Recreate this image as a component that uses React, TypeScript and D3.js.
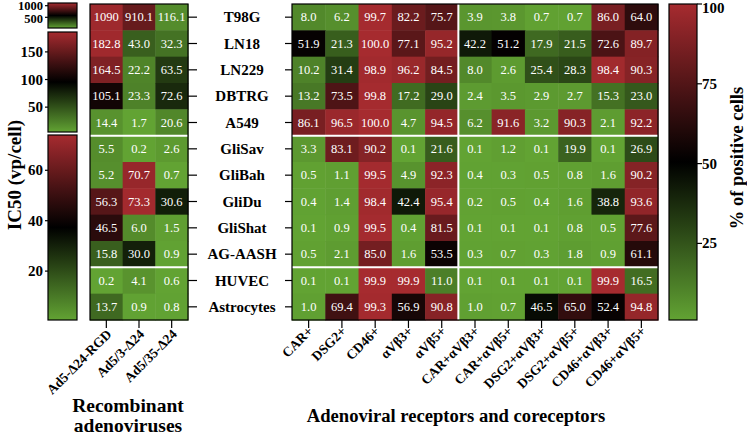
import React from "react";
import * as d3 from "d3";

const cellLines = ["T98G","LN18","LN229","DBTRG","A549","GliSav","GliBah","GliDu","GliShat","AG-AASH","HUVEC","Astrocytes"];
const viruses = ["Ad5-Δ24-RGD","Ad5/3-Δ24","Ad5/35-Δ24"];
const receptors = ["CAR+","DSG2+","CD46+","αVβ3+","αVβ5+","CAR+αVβ3+","CAR+αVβ5+","DSG2+αVβ3+","DSG2+αVβ5+","CD46+αVβ3+","CD46+αVβ5+"];

const ic50: number[][] = [
  [1090, 910.1, 116.1],
  [182.8, 43.0, 32.3],
  [164.5, 22.2, 63.5],
  [105.1, 23.3, 72.6],
  [14.4, 1.7, 20.6],
  [5.5, 0.2, 2.6],
  [5.2, 70.7, 0.7],
  [56.3, 73.3, 30.6],
  [46.5, 6.0, 1.5],
  [15.8, 30.0, 0.9],
  [0.2, 4.1, 0.6],
  [13.7, 0.9, 0.8],
];

const positive: number[][] = [
  [8.0, 6.2, 99.7, 82.2, 75.7, 3.9, 3.8, 0.7, 0.7, 86.0, 64.0],
  [51.9, 21.3, 100.0, 77.1, 95.2, 42.2, 51.2, 17.9, 21.5, 72.6, 89.7],
  [10.2, 31.4, 98.9, 96.2, 84.5, 8.0, 2.6, 25.4, 28.3, 98.4, 90.3],
  [13.2, 73.5, 99.8, 17.2, 29.0, 2.4, 3.5, 2.9, 2.7, 15.3, 23.0],
  [86.1, 96.5, 100.0, 4.7, 94.5, 6.2, 91.6, 3.2, 90.3, 2.1, 92.2],
  [3.3, 83.1, 90.2, 0.1, 21.6, 0.1, 1.2, 0.1, 19.9, 0.1, 26.9],
  [0.5, 1.1, 99.5, 4.9, 92.3, 0.4, 0.3, 0.5, 0.8, 1.6, 90.2],
  [0.4, 1.4, 98.4, 42.4, 95.4, 0.2, 0.5, 0.4, 1.6, 38.8, 93.6],
  [0.1, 0.9, 99.5, 0.4, 81.5, 0.1, 0.1, 0.1, 0.8, 0.5, 77.6],
  [0.5, 2.1, 85.0, 1.6, 53.5, 0.3, 0.7, 0.3, 1.8, 0.9, 61.1],
  [0.1, 0.1, 99.9, 99.9, 11.0, 0.1, 0.1, 0.1, 0.1, 99.9, 16.5],
  [1.0, 69.4, 99.3, 56.9, 90.8, 1.0, 0.7, 46.5, 65.0, 52.4, 94.8],
];

// IC50 colour bars: [min, max] domains and which rows use them
const ic50Domains: [number, number][] = [[40, 1116], [5, 186], [0.6, 74]];
const ic50Ticks: number[][] = [[1000, 500], [150, 100, 50], [60, 40, 20]];
const ic50RowGroup = [0, 1, 1, 1, 1, 2, 2, 2, 2, 2, 2, 2];
const posDomain: [number, number] = [1, 100];
const posTicks = [100, 75, 50, 25];

const GREEN = "#62a333";
const RED = "#a62b2f";
const FONT = "'Liberation Serif', 'Times New Roman', serif";

function colorScale(dom: [number, number]) {
  const mid = (dom[0] + dom[1]) / 2;
  return d3.scaleLinear<string>().domain([dom[0], mid, dom[1]]).range([GREEN, "#000000", RED]).clamp(true);
}

const fmt = (v: number) => (v >= 1000 ? String(Math.round(v)) : v.toFixed(1));

export default function App() {
  const top = 4, bottom = 320;
  const y = d3.scaleBand<string>().domain(cellLines).range([top, bottom]);
  const xL = d3.scaleBand<string>().domain(viruses).range([90, 188]);
  const xR = d3.scaleBand<string>().domain(receptors).range([292, 658]);
  const posColor = colorScale([0, 100]);
  const ic50Colors = ic50Domains.map((d) => colorScale(d));

  const barRanges: [number, number][] = [[3, 28], [32, 132], [135, 320]];
  const barX = 48, barW = 29;
  const rBarX = 669, rBarW = 28;
  const rY = d3.scaleLinear().domain(posDomain).range([320, 4]);

  const gradStops = (dom: [number, number]) => {
    const c = colorScale(dom);
    return d3.range(0, 11).map((i) => {
      const t = i / 10;
      return { off: t, col: c(dom[0] + t * (dom[1] - dom[0])) };
    });
  };

  const sepRows = [5, 10];
  const rowBoundary = (i: number) => top + i * y.bandwidth();

  return (
    <svg width={747} height={436} style={{ position: "absolute", left: 0, top: 0, background: "#fff" }} fontFamily={FONT}>
      <defs>
        {ic50Domains.map((d, i) => (
          <linearGradient key={i} id={`g${i}`} x1="0" y1="1" x2="0" y2="0">
            {gradStops(d).map((s, j) => (
              <stop key={j} offset={s.off} stopColor={s.col} />
            ))}
          </linearGradient>
        ))}
        <linearGradient id="gR" x1="0" y1="1" x2="0" y2="0">
          {gradStops(posDomain).map((s, j) => (
            <stop key={j} offset={s.off} stopColor={s.col} />
          ))}
        </linearGradient>
      </defs>

      {/* Left colour bars */}
      {ic50Domains.map((d, i) => {
        const [y0, y1] = barRanges[i];
        const sc = d3.scaleLinear().domain(d).range([y1, y0]);
        const fs = i === 0 ? 12.5 : 15;
        return (
          <g key={i}>
            <rect x={barX} y={y0} width={barW} height={y1 - y0} fill={`url(#g${i})`} stroke="#000" strokeWidth={1.2} />
            {ic50Ticks[i].map((t) => (
              <g key={t}>
                <line x1={barX - 3} x2={barX} y1={sc(t)} y2={sc(t)} stroke="#000" strokeWidth={1.2} />
                <text x={43} y={i === 0 ? (t === 1000 ? 6 : 18.5) : sc(t)} textAnchor="end" dominantBaseline="central" fontSize={fs} fontWeight="bold">{t}</text>
              </g>
            ))}
          </g>
        );
      })}
      <text transform="translate(14,175) rotate(-90)" textAnchor="middle" dominantBaseline="central" fontSize={19} fontWeight="bold">IC50 (vp/cell)</text>

      {/* Left heatmap */}
      {ic50.map((row, ri) =>
        row.map((v, ci) => (
          <g key={`${ri}-${ci}`}>
            <rect x={xL(viruses[ci])} y={y(cellLines[ri])} width={xL.bandwidth() + 0.5} height={y.bandwidth() + 0.5} fill={ic50Colors[ic50RowGroup[ri]](v)} />
            <text x={(xL(viruses[ci]) as number) + xL.bandwidth() / 2} y={(y(cellLines[ri]) as number) + y.bandwidth() / 2} fill="#fff" fontSize={12.5} textAnchor="middle" dominantBaseline="central">{fmt(v)}</text>
          </g>
        ))
      )}
      {sepRows.map((r) => (
        <line key={r} x1={90} x2={188} y1={rowBoundary(r)} y2={rowBoundary(r)} stroke="#fff" strokeWidth={2} />
      ))}
      <rect x={90} y={top} width={98} height={bottom - top} fill="none" stroke="#000" strokeWidth={1.2} />
      {cellLines.map((c) => {
        const cy = (y(c) as number) + y.bandwidth() / 2;
        return (
          <g key={c}>
            <line x1={188} x2={197} y1={cy} y2={cy} stroke="#000" strokeWidth={1.2} />
            <line x1={285} x2={292} y1={cy} y2={cy} stroke="#000" strokeWidth={1.2} />
            <text x={242} y={cy} textAnchor="middle" dominantBaseline="central" fontSize={15} fontWeight="bold">{c}</text>
          </g>
        );
      })}
      {viruses.map((v) => {
        const cx = (xL(v) as number) + xL.bandwidth() / 2;
        return (
          <g key={v}>
            <line x1={cx} x2={cx} y1={bottom} y2={bottom + 8} stroke="#000" strokeWidth={1.2} />
            <text transform={`translate(${cx + 6},${bottom + 15}) rotate(-45)`} textAnchor="end" fontSize={13.5} fontWeight="bold">{v}</text>
          </g>
        );
      })}
      <text x={128} y={412} textAnchor="middle" fontSize={19.5} fontWeight="bold">Recombinant</text>
      <text x={128} y={432} textAnchor="middle" fontSize={19.5} fontWeight="bold">adenoviruses</text>

      {/* Right heatmap */}
      {positive.map((row, ri) =>
        row.map((v, ci) => (
          <g key={`r${ri}-${ci}`}>
            <rect x={xR(receptors[ci])} y={y(cellLines[ri])} width={xR.bandwidth() + 0.5} height={y.bandwidth() + 0.5} fill={posColor(v)} />
            <text x={(xR(receptors[ci]) as number) + xR.bandwidth() / 2} y={(y(cellLines[ri]) as number) + y.bandwidth() / 2} fill="#fff" fontSize={12.5} textAnchor="middle" dominantBaseline="central">{fmt(v)}</text>
          </g>
        ))
      )}
      {sepRows.map((r) => (
        <line key={`rs${r}`} x1={292} x2={658} y1={rowBoundary(r)} y2={rowBoundary(r)} stroke="#fff" strokeWidth={2} />
      ))}
      <line x1={xR(receptors[5])} x2={xR(receptors[5])} y1={top} y2={bottom} stroke="#fff" strokeWidth={2} />
      <rect x={292} y={top} width={366} height={bottom - top} fill="none" stroke="#000" strokeWidth={1.2} />
      {receptors.map((r) => {
        const cx = (xR(r) as number) + xR.bandwidth() / 2;
        return (
          <g key={r}>
            <line x1={cx} x2={cx} y1={bottom} y2={bottom + 8} stroke="#000" strokeWidth={1.2} />
            <text transform={`translate(${cx + 5},${bottom + 12}) rotate(-45)`} textAnchor="end" fontSize={13.5} fontWeight="bold">{r}</text>
          </g>
        );
      })}
      <text x={456} y={422} textAnchor="middle" fontSize={18.6} fontWeight="bold">Adenoviral receptors and coreceptors</text>

      {/* Right colour bar */}
      <rect x={rBarX} y={4} width={rBarW} height={316} fill="url(#gR)" stroke="#000" strokeWidth={1.2} />
      {posTicks.map((t) => (
        <g key={t}>
          <line x1={rBarX + rBarW} x2={rBarX + rBarW + 5} y1={rY(t)} y2={rY(t)} stroke="#000" strokeWidth={1.2} />
          <text x={rBarX + rBarW + 5} y={Math.max(rY(t), 8)} dominantBaseline="central" fontSize={15} fontWeight="bold">{t}</text>
        </g>
      ))}
      <text transform="translate(737,158) rotate(-90)" textAnchor="middle" dominantBaseline="central" fontSize={18.5} fontWeight="bold">% of positive cells</text>
    </svg>
  );
}
